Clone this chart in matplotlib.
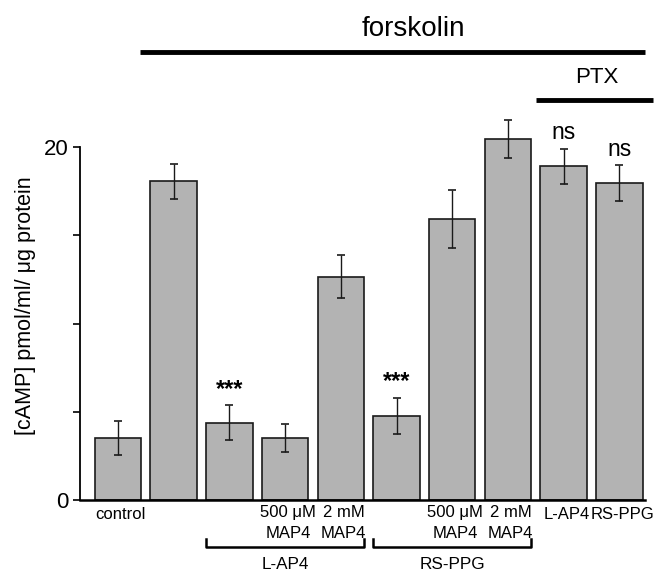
import matplotlib
matplotlib.use("Agg")
import matplotlib.pyplot as plt
import numpy as np

plt.rcParams['font.family'] = ['Liberation Sans', 'DejaVu Sans']

# cAMP per condition (mean, SEM)
labels = ["control", "", "", "500 μM\nMAP4", "2 mM\nMAP4",
          "", "500 μM\nMAP4", "2 mM\nMAP4", "L-AP4", "RS-PPG"]
values = [3.50, 18.06, 4.38, 3.50, 12.65, 4.76, 15.94, 20.47, 18.92, 17.98]
errors = [0.97, 1.00, 0.99, 0.78, 1.22, 1.04, 1.65, 1.09, 0.99, 1.02]
marks = ["", "", "***", "", "", "***", "", "", "ns", "ns"]
groups = [("L-AP4", 2, 4), ("RS-PPG", 5, 7)]

x = np.arange(len(values))

fig = plt.figure(figsize=(6.55, 5.71), dpi=100)
ax = fig.add_axes([0.1221, 0.1243, 0.8626, 0.680])

ax.bar(x, values, width=0.835, color="#b3b3b3", edgecolor="#1a1a1a", linewidth=1.2, zorder=2)
ax.errorbar(x, values, yerr=errors, fmt="none", ecolor="#1a1a1a", elinewidth=1.0,
            capsize=2.8, capthick=1.2, zorder=3)

ax.set_xlim(-0.682, 9.46)
ax.set_ylim(0, 22)
ax.spines["top"].set_visible(False)
ax.spines["right"].set_visible(False)
ax.spines["left"].set_linewidth(1.3)
ax.spines["left"].set_bounds(0, 20)
ax.spines["bottom"].set_linewidth(1.8)
ax.set_yticks([0, 5, 10, 15, 20])
ax.set_yticklabels(["0", "", "", "", "20"], fontsize=16)
ax.tick_params(axis="y", direction="out", length=5, width=1.2, pad=3)
ax.set_xticks([])
ax.set_ylabel("[cAMP] pmol/ml/ μg protein", fontsize=15.5, labelpad=6)

# significance marks above error bars
for xi, v, e, m in zip(x, values, errors, marks):
    if m:
        ax.annotate(m, (xi, v + e), xytext=(0, 3), textcoords="offset points",
                    ha="center", va="bottom", fontsize=16.5 if m == "ns" else 17,
                    fontweight="bold" if m == "***" else "normal")

# category labels under the bars
for xi, lab in zip(x, labels):
    if lab:
        ax.text(xi + 0.05, -1.30 if "\n" in lab else -0.80, lab, ha="center", va="center",
                fontsize=12, linespacing=1.45, clip_on=False)

# brackets for agonist groups
for name, a, b in groups:
    x0, x1 = a - 0.42, b + 0.42
    ax.plot([x0, x0, x1, x1], [-2.21, -2.66, -2.66, -2.21], color="black", lw=1.8, clip_on=False)
    ax.text((x0 + x1) / 2, -3.65, name, ha="center", va="center", fontsize=12.3, clip_on=False)

# forskolin and PTX bars on top
ax.plot([0.39, 9.46], [25.4, 25.4], color="black", lw=3.5, clip_on=False, solid_capstyle="butt")
ax.text(5.3, 26.7, "forskolin", ha="center", va="center", fontsize=20, clip_on=False)
ax.plot([7.5, 9.6], [22.66, 22.66], color="black", lw=3.5, clip_on=False, solid_capstyle="butt")
ax.text(8.6, 23.35, "PTX", ha="center", va="bottom", fontsize=16, clip_on=False)

fig.savefig("out.png", dpi=100)
